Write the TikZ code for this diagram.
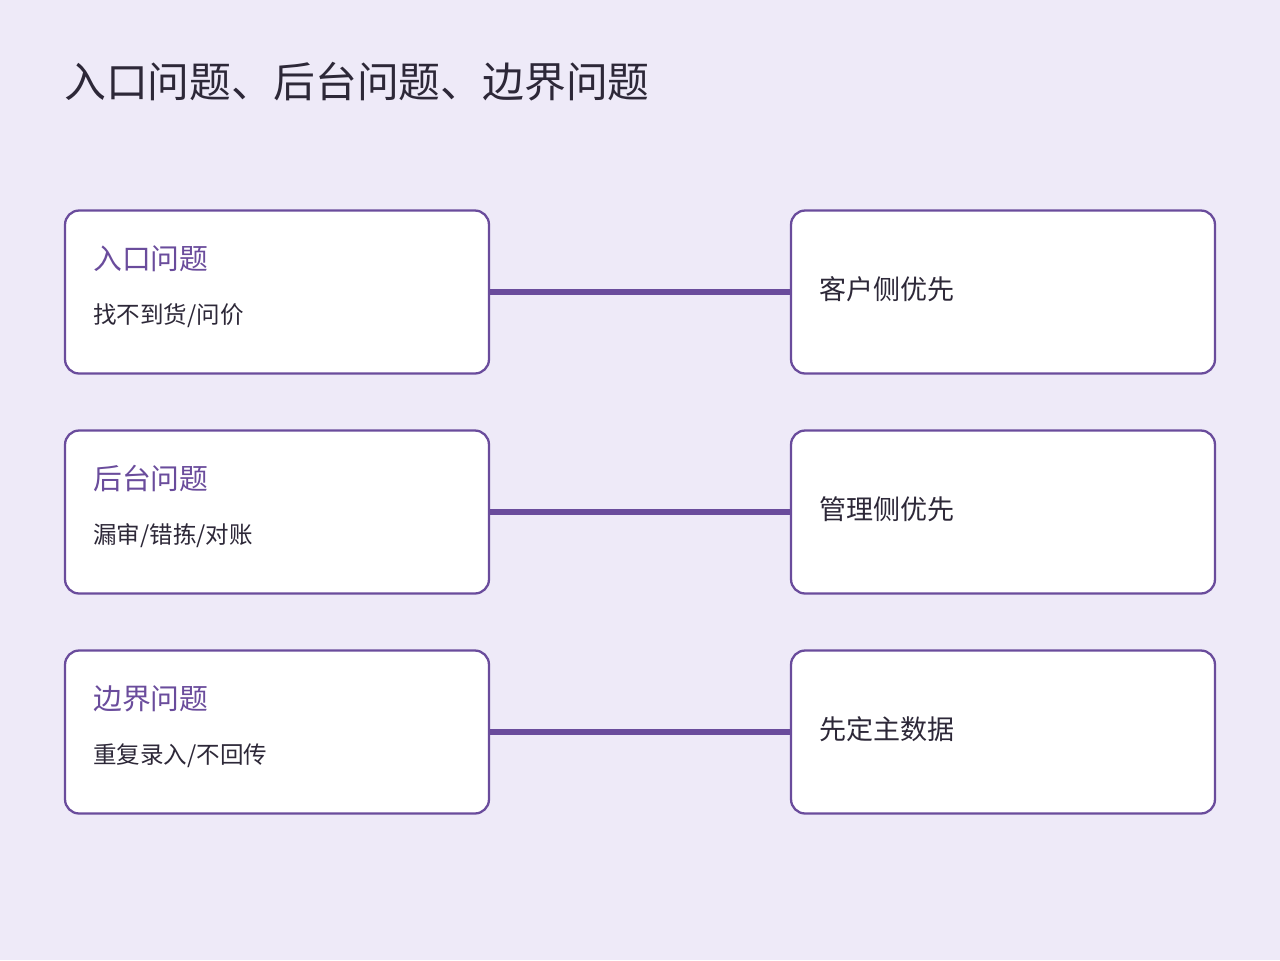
\documentclass[tikz,border=0pt]{standalone}
\usepackage{fontspec}
\setmainfont{Noto Sans CJK SC}
\usetikzlibrary{positioning}
\definecolor{bgcol}{HTML}{EEEAF8}
\definecolor{purp}{HTML}{6A4C9C}
\definecolor{ink}{HTML}{2D2838}

\begin{document}
\begin{tikzpicture}[x=0.02cm,y=-0.02cm,
    box/.style={draw=purp, line width=1.3pt, fill=white, rounded corners=8pt,
        minimum width=8.48cm, minimum height=3.26cm, inner sep=0pt},
    head/.style={anchor=west, inner sep=0pt, text=purp, font=\fontsize{16.4}{18}\selectfont},
    sub/.style={anchor=west, inner sep=0pt, text=ink, font=\fontsize{13.4}{16}\selectfont},
    goal/.style={anchor=west, inner sep=0pt, text=ink, font=\fontsize{15.4}{18}\selectfont},
    link/.style={draw=purp, line width=3.2pt}]
    % Background
    \fill[bgcol] (0,0) rectangle (1280,960);
    \node[anchor=west, inner sep=0pt, text=ink, font=\fontsize{23.8}{28}\selectfont] (title) at (64,82) {入口问题、后台问题、边界问题};

    % Rows
    \foreach \y/\h/\s/\g [count=\i] in {292/入口问题/{找不到货/问价}/客户侧优先,
                                       512/后台问题/{漏审/错拣/对账}/管理侧优先,
                                       732/边界问题/{重复录入/不回传}/先定主数据} {
        \node[box] (L\i) at (277,\y) {};
        \node[box] (R\i) at (1003,\y) {};
        \draw[link] (L\i.east) -- (R\i.west);
        \node[head] (H\i) at (93,\y-33) {\h};
        \node[sub] (S\i) at (93,\y+24) {\s};
        \node[goal] (G\i) at (819,\y-3) {\g};
    }
\end{tikzpicture}
\end{document}
